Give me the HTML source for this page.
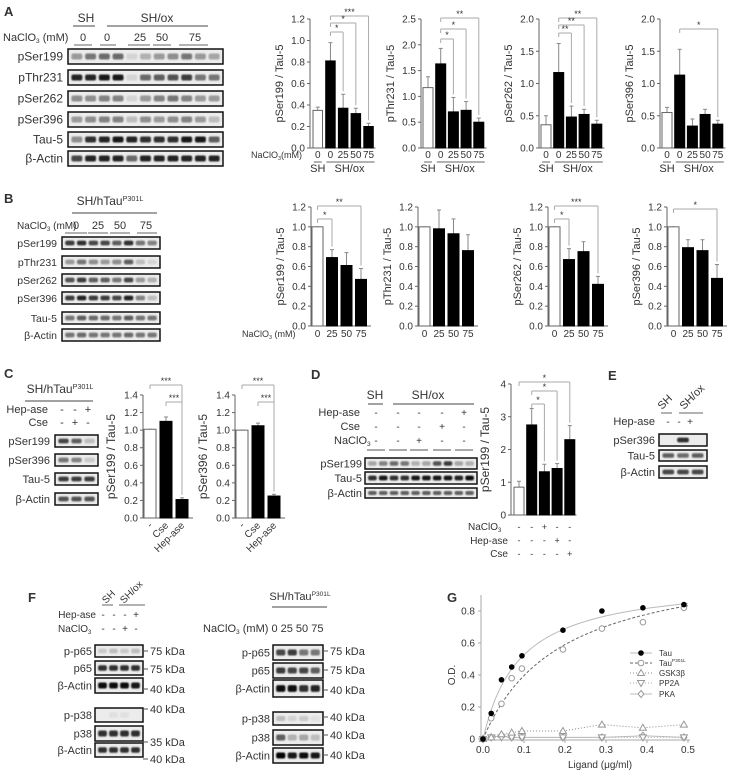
<!DOCTYPE html>
<html><head><meta charset="utf-8"><style>
body{margin:0;background:#fff;}
svg{display:block;font-family:"Liberation Sans",sans-serif;}
</style></head><body>
<svg id="fig" width="730" height="776" viewBox="0 0 730 776" xmlns="http://www.w3.org/2000/svg">
<defs><filter id="blur" x="-20%" y="-50%" width="140%" height="200%"><feGaussianBlur stdDeviation="0.7"/></filter></defs>
</svg>
<script>
// ---------- chart data ----------
const a1Values=[0.35,0.81,0.37,0.32,0.20], a1Errors=[0.38,0.98,0.50,0.37,0.23], a1Ticks=["0.0","0.2","0.4","0.6","0.8","1.0","1.2"];
const a2Values=[1.17,1.63,0.70,0.73,0.50], a2Errors=[1.38,1.93,0.98,0.90,0.58], a2Ticks=["0.0","0.5","1.0","1.5","2.0","2.5"];
const a3Values=[0.36,1.17,0.48,0.52,0.37], a3Errors=[0.50,1.62,0.65,0.60,0.43], a3Ticks=["0.0","0.5","1.0","1.5","2.0"];
const a4Values=[0.55,1.13,0.34,0.52,0.37], a4Errors=[0.63,1.53,0.45,0.60,0.43], a4Ticks=["0.0","0.5","1.0","1.5","2.0"];
const bTicks=["0.0","0.2","0.4","0.6","0.8","1.0","1.2"];
const bCategories=["0","25","50","75"];
const b1Values=[1.0,0.69,0.61,0.47], b1Errors=[1.0,0.77,0.74,0.58];
const b2Values=[1.0,0.98,0.93,0.76], b2Errors=[1.0,1.17,1.08,0.92];
const b3Values=[1.0,0.67,0.75,0.42], b3Errors=[1.0,0.78,0.85,0.50];
const b4Values=[1.0,0.79,0.76,0.48], b4Errors=[1.0,0.87,0.87,0.62];
const cCategories=["-","Cse","Hep-ase"];
const cTicks=["0.0","0.2","0.4","0.6","0.8","1.0","1.2","1.4"];
const c1Values=[1.01,1.10,0.21], c1Errors=[1.01,1.15,0.23];
const c2Values=[1.00,1.05,0.25], c2Errors=[1.00,1.08,0.27];
const dTicks=["0","1","2","3","4"];
const dValues=[0.85,2.75,1.32,1.42,2.30], dErrors=[1.03,3.25,1.55,1.57,2.73];
const gTauX=[0,0.02,0.045,0.07,0.095,0.195,0.29,0.39,0.49];
const gTauY=[0,0.16,0.37,0.45,0.52,0.68,0.80,0.82,0.84];
const gP301X=[0,0.02,0.045,0.07,0.095,0.195,0.29,0.39,0.49];
const gP301Y=[0,0.13,0.22,0.38,0.44,0.56,0.69,0.73,0.82];
const gGskX=[0,0.02,0.045,0.07,0.095,0.195,0.29,0.39,0.49];
const gGskY=[0,0.01,0.03,0.04,0.05,0.05,0.09,0.07,0.09];
const gPp2aX=[0,0.02,0.045,0.07,0.095,0.195,0.29,0.39,0.49];
const gPp2aY=[0,0.01,0.01,0.01,0.01,0.01,0.01,0.01,0.01];
const gPkaX=[0,0.02,0.045,0.07,0.095,0.195,0.29,0.39,0.49];
const gPkaY=[0,0.01,0.02,0.01,0.01,0.01,0.01,0.02,0.01];
const gFitTau=[1.0,0.09], gFitP301=[1.15,0.19];
const gXTicks=["0.0","0.1","0.2","0.3","0.4","0.5"];
const gYTicks=["0","0.2","0.4","0.6","0.8"];

// ---------- helpers ----------
const svg=document.getElementById('fig');
const NS='http://www.w3.org/2000/svg';
function el(tag,attrs,name,parent){
  const e=document.createElementNS(NS,tag);
  for(const k in attrs)e.setAttribute(k,attrs[k]);
  
  
  (parent||svg).appendChild(e);return e;
}
function t(x,y,s,size,anchor,name,extra){
  const a={x:x,y:y,'font-size':size,'text-anchor':anchor||'start',fill:'#333'};
  if(extra)for(const k in extra)a[k]=extra[k];
  const e=el('text',a,name);e.textContent=s;return e;
}
function sub(x,y,base,subs,after,size,anchor,name){
  const e=el('text',{x:x,y:y,'font-size':size,'text-anchor':anchor||'start',fill:'#333'},name);
  e.appendChild(document.createTextNode(base));
  const s=document.createElementNS(NS,'tspan');s.setAttribute('font-size',size*0.6);s.setAttribute('dy',2);s.textContent=subs;e.appendChild(s);
  const s2=document.createElementNS(NS,'tspan');s2.setAttribute('dy',-2);s2.textContent=after||'';e.appendChild(s2);
  return e;
}
function sup(x,y,base,sp,size,anchor,name){
  const e=el('text',{x:x,y:y,'font-size':size,'text-anchor':anchor||'start',fill:'#333'},name);
  e.appendChild(document.createTextNode(base));
  const s=document.createElementNS(NS,'tspan');s.setAttribute('font-size',size*0.6);s.setAttribute('dy',-4);s.textContent=sp;e.appendChild(s);
  return e;
}
function line(x1,y1,x2,y2,name,col,w,dash){
  const a={x1:x1,y1:y1,x2:x2,y2:y2,stroke:col||'#444','stroke-width':w||1};
  if(dash)a['stroke-dasharray']=dash;
  return el('line',a,name);
}
function blot(x,y,w,h,bands,label,lsize,name,labelX){
  const g=el('g',{},name);
  el('rect',{x:x,y:y,width:w,height:h,fill:'#ececec',stroke:'#111','stroke-width':1.5},name+'-frame',g);
  const n=bands.length,lw=(w-4)/n;
  for(let i=0;i<n;i++){
    if(bands[i]<=0)continue;
    el('rect',{x:x+2+i*lw+lw*0.1,y:y+h/2-h*0.2,width:lw*0.8,height:h*0.4,rx:2,fill:'#000','fill-opacity':bands[i],filter:'url(#blur)'},name+'-band',g);
  }
  if(label)t(labelX!==undefined?labelX:x-5,y+h/2+4,label,lsize||11,'end',name+'-label');
}
function barChart(c){
  const sy=v=>c.y0-(v/c.max)*(c.y0-c.yTop);
  line(c.ax,c.yTop,c.ax,c.y0,c.name+'-y-axis','#666');
  line(c.ax,c.y0,c.ax+c.step*c.values.length+2,c.y0,c.name+'-x-axis','#666');
  c.ticks.forEach((tk,i)=>{
    const v=parseFloat(tk),yy=sy(v);
    line(c.ax-3,yy,c.ax,yy,c.name+'-tick','#666');
    t(c.ax-5,yy+3.5,tk,c.tickSize||10,'end',c.name+'-tick-label');
  });
  c.values.forEach((v,i)=>{
    const bx=c.ax+c.off+i*c.step;
    const open=c.open.indexOf(i)>=0;
    line(bx+c.bw/2,sy(c.errors[i]),bx+c.bw/2,sy(v),c.name+'-error-bar','#888');
    line(bx+c.bw/2-2,sy(c.errors[i]),bx+c.bw/2+2,sy(c.errors[i]),c.name+'-error-cap','#888');
    el('rect',{x:bx,y:sy(v),width:c.bw,height:c.y0-sy(v),fill:open?'#fff':'#000',stroke:open?'#666':'#000','stroke-width':1},c.name+'-bar-'+i);
  });
  const mid=(c.yTop+c.y0)/2;
  t(c.ax-c.ylOff,mid,c.ylabel,c.ylSize||11,'middle',c.name+'-y-axis-title',{transform:'rotate(-90 '+(c.ax-c.ylOff)+' '+mid+')'});
  (c.sigs||[]).forEach(s=>{
    const x1=c.ax+c.off+s[0]*c.step+c.bw/2,x2=c.ax+c.off+s[1]*c.step+c.bw/2,yl=s[2];
    line(x1,yl,x2,yl,c.name+'-sig-line','#aaa');
    line(x1,yl,x1,yl+4,c.name+'-sig-tick','#aaa');
    line(x2,yl,x2,sy(c.errors[s[1]])-3,c.name+'-sig-drop','#aaa');
    t((x1+x2)/2,yl-1,s[3],9,'middle',c.name+'-sig-stars');
  });
  return sy;
}
function bx(c,i){return c.ax+c.off+i*c.step+c.bw/2;}

// ================= Panel A =================
t(4,16,'A',13,'start','panel-a-label',{'font-weight':'bold'});
t(86,22,'SH',12,'middle','a-sh-header');line(73,26,95,26,'a-sh-line');
t(157,22,'SH/ox',12,'middle','a-shox-header');line(107,26,208,26,'a-shox-line');
sub(3,41,'NaClO','3',' (mM)',11,'start','a-naclo3-label');
[[83,'0'],[107,'0'],[140,'25'],[162,'50'],[195,'75']].forEach(p=>t(p[0],41,p[1],11,'middle','a-conc-label'));
[[74,92],[100,116],[128,150],[153,171],[179,208]].forEach(p=>line(p[0],45,p[1],45,'a-conc-underline','#666'));
const aRows=[['pSer199',[0.35,0.5,0.55,0.55,0.1,0.25,0.35,0.4,0.5,0.35,0.3]],['pThr231',[0.85,0.85,0.9,0.9,0.1,0.55,0.6,0.65,0.75,0.5,0.5]],['pSer262',[0.4,0.4,0.45,0.45,0.1,0.35,0.45,0.5,0.45,0.35,0.35]],['pSer396',[0.35,0.4,0.45,0.45,0.2,0.4,0.35,0.4,0.45,0.35,0.2]],['Tau-5',[0.4,0.8,0.85,0.9,0.85,0.8,0.8,0.8,0.9,0.9,0.6]],['β-Actin',[0.7,0.85,0.85,0.85,0.55,0.85,0.85,0.85,0.85,0.85,0.85]]];
const aY=[49,70,91,112,132,151];
aRows.forEach((r,i)=>blot(68,aY[i],155,15,r[1],r[0],12,'a-blot-'+r[0]));

const A1={name:'a-chart-pser199',ax:310,y0:148,yTop:19,max:1.2,ticks:a1Ticks,values:a1Values,errors:a1Errors,off:3,bw:9.5,step:12.7,open:[0],ylabel:'pSer199 / Tau-5',ylOff:27,sigs:[[1,4,16,'***'],[1,3,23,'*'],[1,2,32,'*']]};
const A2={name:'a-chart-pthr231',ax:421,y0:148,yTop:19,max:2.5,ticks:a2Ticks,values:a2Values,errors:a2Errors,off:2,bw:10,step:12.7,open:[0],ylabel:'pThr231 / Tau-5',ylOff:27,sigs:[[1,4,18,'**'],[1,3,29,'*'],[1,2,39,'*']]};
const A3={name:'a-chart-pser262',ax:539,y0:148,yTop:19,max:2.0,ticks:a3Ticks,values:a3Values,errors:a3Errors,off:2,bw:10,step:12.7,open:[0],ylabel:'pSer262 / Tau-5',ylOff:27,sigs:[[1,4,18,'**'],[1,3,25,'**'],[1,2,33,'**']]};
const A4={name:'a-chart-pser396',ax:660,y0:148,yTop:19,max:2.0,ticks:a4Ticks,values:a4Values,errors:a4Errors,off:2,bw:10,step:12.7,open:[0],ylabel:'pSer396 / Tau-5',ylOff:27,sigs:[[1,4,29,'*']]};
[A1,A2,A3,A4].forEach(c=>{
  barChart(c);
  const labs=['0','0','25','50','75'];
  labs.forEach((l,i)=>t(bx(c,i),158,l,10,'middle',c.name+'-x-label'));
  line(bx(c,0)-4,162,bx(c,0)+4,162,c.name+'-sh-line','#666');
  line(bx(c,1)-4,162,bx(c,4)+6,162,c.name+'-shox-line','#666');
  t(bx(c,0),172,'SH',11,'middle',c.name+'-sh-label');
  t((bx(c,1)+bx(c,4))/2,172,'SH/ox',11,'middle',c.name+'-shox-label');
});
sub(251,158,'NaClO','3','(mM)',9,'start','a-chart-naclo3-label');

// ================= Panel B =================
t(4,203,'B',13,'start','panel-b-label',{'font-weight':'bold'});
sup(110,205,'SH/hTau','P301L',12,'middle','b-header');line(72,213,157,213,'b-header-line');
sub(17,229,'NaClO','3',' (mM)',10,'start','b-naclo3-label');
[[76,'0'],[98,'25'],[120,'50'],[146,'75']].forEach(p=>t(p[0],229,p[1],11,'middle','b-conc-label'));
[[65,87],[88,108],[110,130],[137,157]].forEach(p=>line(p[0],233,p[1],233,'b-conc-underline','#666'));
const bRows=[['pSer199',[0.75,0.8,0.7,0.7,0.6,0.8,0.5,0.45]],['pThr231',[0.35,0.5,0.4,0.35,0.4,0.6,0.2,0.1]],['pSer262',[0.65,0.75,0.6,0.6,0.5,0.7,0.35,0.25]],['pSer396',[0.75,0.85,0.75,0.75,0.7,0.85,0.45,0.2]],['Tau-5',[0.5,0.6,0.55,0.55,0.5,0.6,0.5,0.5]],['β-Actin',[0.5,0.55,0.5,0.5,0.5,0.55,0.5,0.5]]];
const bY=[237,256,274,292,312,329];
bRows.forEach((r,i)=>blot(62,bY[i],98,12,r[1],r[0],10.5,'b-blot-'+r[0]));
const B1={name:'b-chart-pser199',ax:311,y0:326,yTop:207,max:1.2,ticks:bTicks,values:b1Values,errors:b1Errors,off:1,bw:11,step:14.5,open:[0],ylabel:'pSer199 / Tau-5',ylOff:27,sigs:[[0,1,219,'*'],[0,3,206,'**']]};
const B2={name:'b-chart-pthr231',ax:418,y0:326,yTop:207,max:1.2,ticks:bTicks,values:b2Values,errors:b2Errors,off:1,bw:11,step:14.5,open:[0],ylabel:'pThr231 / Tau-5',ylOff:27,sigs:[]};
const B3={name:'b-chart-pser262',ax:548,y0:326,yTop:207,max:1.2,ticks:bTicks,values:b3Values,errors:b3Errors,off:1,bw:11,step:14.5,open:[0],ylabel:'pSer262 / Tau-5',ylOff:27,sigs:[[0,1,219,'*'],[0,3,206,'***']]};
const B4={name:'b-chart-pser396',ax:667,y0:326,yTop:207,max:1.2,ticks:bTicks,values:b4Values,errors:b4Errors,off:1,bw:11,step:14.5,open:[0],ylabel:'pSer396 / Tau-5',ylOff:27,sigs:[[0,3,209,'*']]};
[B1,B2,B3,B4].forEach(c=>{
  barChart(c);
  bCategories.forEach((l,i)=>t(bx(c,i),337,l,10,'middle',c.name+'-x-label'));
});
sub(242,337,'NaClO','3',' (mM)',9,'start','b-chart-naclo3-label');

// ================= Panel C =================
t(4,378,'C',13,'start','panel-c-label',{'font-weight':'bold'});
sup(60,393,'SH/hTau','P301L',12,'middle','c-header');line(25,401,93,401,'c-header-line');
t(48,413,'Hep-ase',11,'end','c-hepase-label');t(48,426,'Cse',11,'end','c-cse-label');
['-','-','+'].forEach((s,i)=>t(62+i*13,413,s,11,'middle','c-hepase-sign'));
['-','+','-'].forEach((s,i)=>t(62+i*13,426,s,11,'middle','c-cse-sign'));
const cRows=[['pSer199',[0.7,0.6,0.2]],['pSer396',[0.5,0.45,0.15]],['Tau-5',[0.75,0.75,0.75]],['β-Actin',[0.65,0.65,0.65]]];
const cY=[435,454,473,493];
cRows.forEach((r,i)=>blot(55,cY[i],13*3+4,12,r[1],r[0],11,'c-blot-'+r[0],50));
const C1={name:'c-chart-pser199',ax:143,y0:518,yTop:395,max:1.4,ticks:cTicks,values:c1Values,errors:c1Errors,off:1,bw:12,step:16,open:[0],ylabel:'pSer199 / Tau-5',ylOff:28,ylSize:12,sigs:[[0,2,385,'***'],[1,2,402,'***']]};
const C2={name:'c-chart-pser396',ax:235,y0:518,yTop:395,max:1.4,ticks:cTicks,values:c2Values,errors:c2Errors,off:1,bw:12,step:16,open:[0],ylabel:'pSer396 / Tau-5',ylOff:28,ylSize:12,sigs:[[0,2,385,'***'],[1,2,402,'***']]};
[C1,C2].forEach(c=>{
  barChart(c);
  cCategories.forEach((l,i)=>{const xx=bx(c,i)+3,yy=526;t(xx,yy,l,10,'end',c.name+'-x-label',{transform:'rotate(-45 '+xx+' '+yy+')'});});
});

// ================= Panel D =================
t(311,379,'D',13,'start','panel-d-label',{'font-weight':'bold'});
t(375,399,'SH',12,'middle','d-sh-header');line(368,404,383,404,'d-sh-line');
t(428,399,'SH/ox',12,'middle','d-shox-header');line(393,404,474,404,'d-shox-line');
const dCols=[376,398,419,442,464];
t(360,416,'Hep-ase',11,'end','d-hepase-label');t(360,430,'Cse',11,'end','d-cse-label');sub(334,444,'NaClO','3','',11,'start','d-naclo3-label');
['-','-','-','-','+'].forEach((s,i)=>t(dCols[i],416,s,10,'middle','d-hepase-sign'));
['-','-','-','+','-'].forEach((s,i)=>t(dCols[i],430,s,10,'middle','d-cse-sign'));
['-','-','+','-','-'].forEach((s,i)=>t(dCols[i],444,s,10,'middle','d-naclo3-sign'));
dCols.forEach(x=>line(x-9,450,x+9,450,'d-lane-underline','#555'));
blot(365,458,112,11,[0.3,0.45,0.55,0.5,0.25,0.3,0.65,0.75,0.3,0.25],'pSer199',11,'d-blot-pser199',362);
blot(365,472,112,12,[0.8,0.9,0.8,0.8,0.9,0.9,0.9,0.9,0.85,0.95],'Tau-5',11,'d-blot-tau5',362);
blot(365,488,112,10,[0.6,0.6,0.6,0.6,0.6,0.6,0.6,0.6,0.6,0.6],'β-Actin',11,'d-blot-actin',362);
const D1={name:'d-chart-pser199',ax:511,y0:515,yTop:384,max:4,ticks:dTicks,values:dValues,errors:dErrors,off:3,bw:10,step:12.7,open:[0],ylabel:'pSer199 / Tau-5',ylOff:22,ylSize:12,sigs:[[0,4,382,'*'],[1,3,391,'*'],[1,2,404,'*']]};
barChart(D1);
sub(468,530,'NaClO','3','',10,'start','d-chart-naclo3-label');
t(508,544,'Hep-ase',10,'end','d-chart-hepase-label');t(508,557,'Cse',10,'end','d-chart-cse-label');
const dRowsSign=[['-','-','+','-','-'],['-','-','-','+','-'],['-','-','-','-','+']];
dRowsSign.forEach((r,j)=>r.forEach((s,i)=>t(bx(D1,i),530+j*13.5,s,9,'middle','d-chart-sign')));

// ================= Panel E =================
t(608,380,'E',13,'start','panel-e-label',{'font-weight':'bold'});
t(662,410,'SH',11,'start','e-sh-header',{transform:'rotate(-45 662 410)'});
t(684,410,'SH/ox',11,'start','e-shox-header',{transform:'rotate(-45 684 410)'});
line(661,413,672,413,'e-sh-line','#666');line(679,413,703,413,'e-shox-line','#666');
t(655,425,'Hep-ase',11,'end','e-hepase-label');
['-','-','+'].forEach((s,i)=>t(668+i*11,425,s,10,'middle','e-hepase-sign'));
blot(659,434,48,12,[0,0.8,0],'pSer396',11,'e-blot-pser396',655);
blot(659,450,48,11,[0.6,0.55,0.6],'Tau-5',11,'e-blot-tau5',655);
blot(659,466,48,12,[0.7,0.7,0.7],'β-Actin',11,'e-blot-actin',655);

// ================= Panel F =================
t(28,602,'F',13,'start','panel-f-label',{'font-weight':'bold'});
t(106,604,'SH',10,'start','f-sh-header',{transform:'rotate(-45 106 604)'});
t(124,604,'SH/ox',10,'start','f-shox-header',{transform:'rotate(-45 124 604)'});
line(102,605,113,605,'f-sh-line','#666');line(119,605,145,605,'f-shox-line','#666');
t(96,618,'Hep-ase',10,'end','f-hepase-label');sub(58,632,'NaClO','3','',10,'start','f-naclo3-label');
['-','-','-','+'].forEach((s,i)=>t(103+i*11,618,s,10,'middle','f-hepase-sign'));
['-','-','+','-'].forEach((s,i)=>t(103+i*11,632,s,10,'middle','f-naclo3-sign'));
const fL=[['p-p65',645,12,[0.15,0.2,0.15,0.2],'75 kDa',655],['p65',661,14,[0.8,0.8,0.8,0.8],'75 kDa',673],['β-Actin',678,15,[0.95,0.95,0.95,0.9],'40 kDa',693],['p-p38',708,14,[0,0.05,0.05,0],'40 kDa',713],['p38',726,15,[0.8,0.8,0.8,0.8],'35 kDa',746],['β-Actin',743,14,[0.8,0.8,0.8,0.8],'40 kDa',763]];
fL.forEach((r,i)=>{blot(95,r[1],48,r[2],r[3],r[0],11,'f-left-blot-'+i,92);line(143,r[5]-4,148,r[5]-4,'f-left-kda-tick','#555');t(150,r[5],r[4],11,'start','f-left-kda-label');});
sup(300,600,'SH/hTau','P301L',11,'middle','f-right-header');line(272,607,327,607,'f-right-header-line');
sub(203,632,'NaClO','3',' (mM) 0 25 50 75',11,'start','f-right-naclo3-label');
const fR=[['p-p65',645,15,[0.7,0.75,0.5,0.5],'75 kDa',655],['p65',663,15,[0.75,0.7,0.7,0.6],'75 kDa',674],['β-Actin',680,17,[0.95,0.95,0.8,0.85],'40 kDa',694],['p-p38',712,13,[0.2,0.1,0.15,0.05],'40 kDa',721],['p38',730,15,[0.6,0.25,0.3,0.2],'40 kDa',739],['β-Actin',748,15,[1,0.9,0.95,0.9],'40 kDa',759]];
fR.forEach((r,i)=>{blot(273,r[1],50,r[2],r[3],r[0],11,'f-right-blot-'+i,270);line(323,r[5]-4,328,r[5]-4,'f-right-kda-tick','#555');t(330,r[5],r[4],11,'start','f-right-kda-label');});

// ================= Panel G =================
t(447,602,'G',13,'start','panel-g-label',{'font-weight':'bold'});
const gx=v=>483+v*410, gy=v=>739-v*160;
line(481,595,481,740,'g-y-axis','#aaa');line(481,740,690,740,'g-x-axis','#aaa');
gYTicks.forEach(tk=>{const yy=gy(parseFloat(tk));line(478,yy,481,yy,'g-y-tick','#aaa');t(475,yy+3.5,tk,10,'end','g-y-tick-label');});
gXTicks.forEach(tk=>{const xx=gx(parseFloat(tk));line(xx,740,xx,743,'g-x-tick','#aaa');t(xx,753,tk,10,'middle','g-x-tick-label');});
t(455,675,'O.D.',10,'middle','g-y-axis-title',{transform:'rotate(-90 455 675)'});
t(600,768,'Ligand (μg/ml)',10,'middle','g-x-axis-title');
function fitPath(p){let d='';for(let k=0;k<=50;k++){const x=0.5*k/50;const y=p[0]*x/(p[1]+x);d+=(k?'L':'M')+gx(x).toFixed(1)+' '+gy(y).toFixed(1);}return d;}
el('path',{d:fitPath(gFitTau),fill:'none',stroke:'#bbb','stroke-width':1},'g-tau-fit-line');
el('path',{d:fitPath(gFitP301),fill:'none',stroke:'#666','stroke-width':1,'stroke-dasharray':'3 2'},'g-tau-p301l-fit-line');
function polyPath(xs,ys){return xs.map((x,i)=>(i?'L':'M')+gx(x).toFixed(1)+' '+gy(ys[i]).toFixed(1)).join('');}
el('path',{d:polyPath(gGskX,gGskY),fill:'none',stroke:'#888','stroke-dasharray':'1 2'},'g-gsk3b-line');
el('path',{d:polyPath(gPp2aX,gPp2aY),fill:'none',stroke:'#aaa','stroke-dasharray':'1 2'},'g-pp2a-line');
el('path',{d:polyPath(gPkaX,gPkaY),fill:'none',stroke:'#bbb'},'g-pka-line');
function marker(kind,cx,cy,name){
  if(kind==='dot')return el('circle',{cx:cx,cy:cy,r:2.8,fill:'#000'},name);
  if(kind==='circle')return el('circle',{cx:cx,cy:cy,r:2.8,fill:'#fff',stroke:'#999'},name);
  if(kind==='tri')return el('path',{d:`M${cx} ${cy-3.5}L${cx+3.5} ${cy+2.5}L${cx-3.5} ${cy+2.5}Z`,fill:'#fff',stroke:'#999'},name);
  if(kind==='itri')return el('path',{d:`M${cx} ${cy+3.5}L${cx+3.5} ${cy-2.5}L${cx-3.5} ${cy-2.5}Z`,fill:'#fff',stroke:'#999'},name);
  return el('path',{d:`M${cx} ${cy-3.5}L${cx+3} ${cy}L${cx} ${cy+3.5}L${cx-3} ${cy}Z`,fill:'#fff',stroke:'#999'},name);
}
gPkaX.forEach((x,i)=>marker('dia',gx(x),gy(gPkaY[i]),'g-pka-point'));
gPp2aX.forEach((x,i)=>marker('itri',gx(x),gy(gPp2aY[i]),'g-pp2a-point'));
gGskX.forEach((x,i)=>marker('tri',gx(x),gy(gGskY[i]),'g-gsk3b-point'));
gP301X.forEach((x,i)=>marker('circle',gx(x),gy(gP301Y[i]),'g-tau-p301l-point'));
gTauX.forEach((x,i)=>marker('dot',gx(x),gy(gTauY[i]),'g-tau-point'));
const legY=[653,663,673,683,694];
[['dot','Tau','#bbb',''],['circle','Tau','#666','3 2'],['tri','GSK3β','#888','1 2'],['itri','PP2A','#aaa','1 2'],['dia','PKA','#bbb','']].forEach((L,i)=>{
  line(630,legY[i],652,legY[i],'g-legend-line',L[2],1,L[3]||null);
  marker(L[0],641,legY[i],'g-legend-marker');
  if(i===1)sup(659,legY[i]+3,'Tau','P301L',8,'start','g-legend-label');
  else t(659,legY[i]+3,L[1],8,'start','g-legend-label');
});
</script>
</body></html>
